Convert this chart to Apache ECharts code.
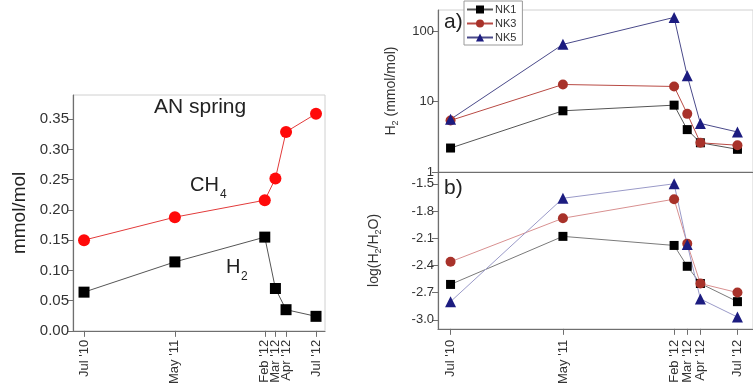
<!DOCTYPE html>
<html><head><meta charset="utf-8">
<script src="https://cdn.jsdelivr.net/npm/echarts@6/dist/echarts.min.js"></script>
<style>html,body{margin:0;padding:0;background:#fff}#c{width:753px;height:387px}</style>
</head><body><div id="c"></div>
<script>
// sampling times (months since Jul 2010) and their labels
const months = [0, 9.4, 18.7, 19.8, 20.9, 24];
const dateLabels = ["Jul '10", "May '11", "Feb '12", "Mar '12", "Apr '12", "Jul '12"];
// AN spring (mmol/mol)
const anCH4 = [0.150, 0.188, 0.216, 0.252, 0.329, 0.359];
const anH2 = [0.064, 0.114, 0.155, 0.070, 0.035, 0.024];
// a) H2 (mmol/mol)
const nk1H2 = [2.19, 7.4, 8.9, 4.0, 2.6, 2.1];
const nk3H2 = [5.4, 17.5, 16.4, 6.7, 2.6, 2.4];
const nk5H2 = [5.6, 65, 157, 23.2, 4.9, 3.7];
// b) log(H2/H2O)
const nk1Log = [-2.61, -2.08, -2.18, -2.41, -2.60, -2.80];
const nk3Log = [-2.36, -1.88, -1.67, -2.16, -2.60, -2.70];
const nk5Log = [-2.80, -1.66, -1.50, -2.17, -2.77, -2.97];
// tick values
const leftTicks = [0, 0.05, 0.10, 0.15, 0.20, 0.25, 0.30, 0.35];
const logTicks = [-3.0, -2.7, -2.4, -2.1, -1.8, -1.5];

const pts = arr => months.map((m, i) => [m, arr[i]]);
const labelOf = v => { const i = months.findIndex(m => Math.abs(m - v) < 1e-6); return i >= 0 ? dateLabels[i] : ''; };

const axisCol = '#6f6f6f';
const txtCol = '#333';
const font = 'Liberation Sans, Arial, sans-serif';

function xAxis(gridIndex, min, max, showLabels, fs, margin) {
  return {
    type: 'value', gridIndex, min, max,
    axisLine: { show: true, onZero: false, lineStyle: { color: axisCol, width: 1.2 } },
    axisTick: { show: showLabels, customValues: months, length: 6, lineStyle: { color: axisCol } },
    axisLabel: { show: showLabels, customValues: months, rotate: 90, formatter: labelOf, fontSize: fs, color: txtCol, fontFamily: font, margin },
    splitLine: { show: false }
  };
}

const chart = echarts.init(document.getElementById('c'), null, { renderer: 'canvas' });
chart.setOption({
  animation: false,
  textStyle: { fontFamily: font },
  grid: [
    { left: 73, top: 95, width: 252, height: 239, show: true, borderColor: '#d0d0d0', borderWidth: 1 },
    { left: 438, top: 10, width: 325, height: 162, show: true, borderColor: '#d0d0d0', borderWidth: 1 },
    { left: 438, top: 172, width: 325, height: 162, show: true, borderColor: '#d0d0d0', borderWidth: 1 }
  ],
  xAxis: [
    xAxis(0, -1.14, 24.93, true, 13, 9),
    xAxis(1, -1.05, 25.3, false, 12, 10),
    xAxis(2, -1.05, 25.3, true, 13, 11)
  ],
  yAxis: [
    { type: 'value', gridIndex: 0, min: 0, max: 0.39,
      name: 'mmol/mol', nameLocation: 'middle', nameGap: 44,
      nameTextStyle: { fontSize: 19, color: '#222', fontFamily: font },
      axisLine: { show: true, onZero: false, lineStyle: { color: axisCol, width: 1.2 } },
      axisTick: { show: true, customValues: leftTicks, length: 6, lineStyle: { color: axisCol } },
      axisLabel: { customValues: leftTicks, formatter: v => v.toFixed(2), fontSize: 15, color: txtCol, margin: 4 },
      splitLine: { show: false } },
    { type: 'log', gridIndex: 1, min: 1, max: 200, logBase: 10,
      name: '{n|H}{s|2}{n| (mmol/mol)}', nameLocation: 'middle', nameGap: 38,
      nameTextStyle: { color: txtCol, rich: { n: { fontSize: 14, color: txtCol, fontFamily: font }, s: { fontSize: 9, color: txtCol, fontFamily: font, padding: [8, 0, 0, 0] } } },
      axisLine: { show: true, onZero: false, lineStyle: { color: axisCol, width: 1.2 } },
      axisTick: { show: true, length: 6, lineStyle: { color: axisCol } },
      axisLabel: { fontSize: 13, color: txtCol, margin: 4, showMaxLabel: false },
      minorTick: { show: false },
      splitLine: { show: false } },
    { type: 'value', gridIndex: 2, min: -3.1, max: -1.37,
      name: '{n|log(H}{s|2}{n|/H}{s|2}{n|O)}', nameLocation: 'middle', nameGap: 55,
      nameTextStyle: { color: txtCol, rich: { n: { fontSize: 14, color: txtCol, fontFamily: font }, s: { fontSize: 9, color: txtCol, fontFamily: font, padding: [8, 0, 0, 0] } } },
      axisLine: { show: true, onZero: false, lineStyle: { color: axisCol, width: 1.2 } },
      axisTick: { show: true, customValues: logTicks, length: 6, lineStyle: { color: axisCol } },
      axisLabel: { customValues: logTicks, formatter: v => v.toFixed(1), fontSize: 13, color: txtCol, margin: 4 },
      splitLine: { show: false } }
  ],
  legend: {
    data: ['NK1', 'NK3', 'NK5'], orient: 'vertical', left: 464, top: 1,
    itemWidth: 26, itemHeight: 10, itemGap: 3, padding: [3, 6, 2, 2],
    borderColor: '#9a9a9a', borderWidth: 1, backgroundColor: '#fff',
    textStyle: { fontSize: 11, color: '#333', padding: [0, 0, 0, -3] }
  },
  series: [
    { name: 'CH4', type: 'line', xAxisIndex: 0, yAxisIndex: 0, data: pts(anCH4), symbol: 'circle', symbolSize: 12,
      itemStyle: { color: '#ff0a0a' }, lineStyle: { color: '#e23a3a', width: 1 } },
    { name: 'H2', type: 'line', xAxisIndex: 0, yAxisIndex: 0, data: pts(anH2), symbol: 'rect', symbolSize: 11,
      itemStyle: { color: '#000' }, lineStyle: { color: '#555', width: 1 } },
    { name: 'NK1', type: 'line', xAxisIndex: 1, yAxisIndex: 1, data: pts(nk1H2), symbol: 'rect', symbolSize: 9,
      itemStyle: { color: '#000' }, lineStyle: { color: '#555', width: 1 } },
    { name: 'NK3', type: 'line', xAxisIndex: 1, yAxisIndex: 1, data: pts(nk3H2), symbol: 'circle', symbolSize: 10,
      itemStyle: { color: '#a8322a' }, lineStyle: { color: '#b84a44', width: 1 } },
    { name: 'NK5', type: 'line', xAxisIndex: 1, yAxisIndex: 1, data: pts(nk5H2), symbol: 'triangle', symbolSize: 11,
      itemStyle: { color: '#1c1c80' }, lineStyle: { color: '#4a4a8a', width: 1 } },
    { name: 'NK1', type: 'line', xAxisIndex: 2, yAxisIndex: 2, data: pts(nk1Log), symbol: 'rect', symbolSize: 9,
      itemStyle: { color: '#000' }, lineStyle: { color: '#7a7a7a', width: 1 } },
    { name: 'NK3', type: 'line', xAxisIndex: 2, yAxisIndex: 2, data: pts(nk3Log), symbol: 'circle', symbolSize: 10,
      itemStyle: { color: '#a8322a' }, lineStyle: { color: '#d89090', width: 1 } },
    { name: 'NK5', type: 'line', xAxisIndex: 2, yAxisIndex: 2, data: pts(nk5Log), symbol: 'triangle', symbolSize: 11,
      itemStyle: { color: '#1c1c80' }, lineStyle: { color: '#9a9ac8', width: 1 } }
  ],
  graphic: [
    { type: 'text', left: 154, top: 97, style: { text: 'AN spring', fontSize: 21, fill: '#222', fontFamily: font } },
    { type: 'text', left: 190, top: 175, style: { text: 'CH', fontSize: 20, fill: '#222', fontFamily: font } },
    { type: 'text', left: 220, top: 189, style: { text: '4', fontSize: 12, fill: '#222', fontFamily: font } },
    { type: 'text', left: 226, top: 257, style: { text: 'H', fontSize: 20, fill: '#222', fontFamily: font } },
    { type: 'text', left: 241, top: 271, style: { text: '2', fontSize: 12, fill: '#222', fontFamily: font } },
    { type: 'text', left: 444, top: 12, style: { text: 'a)', fontSize: 21, fill: '#222', fontFamily: font } },
    { type: 'text', left: 444, top: 178, style: { text: 'b)', fontSize: 21, fill: '#222', fontFamily: font } }
  ]
});
</script></body></html>
